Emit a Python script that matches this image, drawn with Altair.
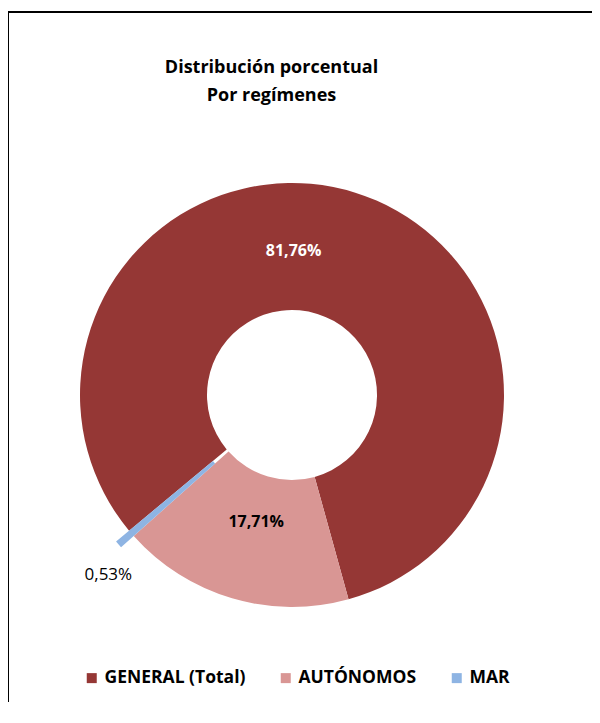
import math
import altair as alt
import pandas as pd

regimenes = ["GENERAL (Total)", "AUTÓNOMOS", "MAR"]
porcentajes = [81.76, 17.71, 0.53]
etiquetas = ["81,76%", "17,71%", "0,53%"]
orden = [1, 2, 3]
colores = ["#953735", "#D99694", "#8EB4E3"]

df = pd.DataFrame({"regimen": regimenes, "valor": porcentajes,
                   "etiqueta": etiquetas, "orden": orden})

FONT = "Open Sans"
start = math.radians(230.2)
theta_scale = alt.Scale(domain=[0, 100], range=[start, start + 2 * math.pi])
cx, cy = 282, 383

base = alt.Chart(df).transform_window(
    cum="sum(valor)", sort=[alt.SortField("orden")]
).transform_calculate(
    cum0="datum.cum - datum.valor", mid="datum.cum - datum.valor / 2"
)

color = alt.Color(
    "regimen:N",
    scale=alt.Scale(domain=regimenes, range=colores),
    legend=alt.Legend(
        title=None, orient="none", legendX=73, legendY=657,
        direction="horizontal", symbolType="square", symbolSize=100,
        symbolStrokeWidth=0, labelFont=FONT, labelFontSize=17.5,
        labelFontWeight="bold", labelColor="black", labelOffset=4,
        columnPadding=31, padding=0,
    ),
)

arcs = base.transform_filter("datum.regimen != 'MAR'").mark_arc(
    radius=212, radius2=85
).encode(
    theta=alt.Theta("cum0:Q", scale=theta_scale, stack=False),
    theta2="cum:Q",
    color=color,
    x=alt.value(cx), y=alt.value(cy),
)

arc_mar = base.transform_filter("datum.regimen == 'MAR'").mark_arc(
    radius=229, radius2=103
).encode(
    theta=alt.Theta("cum0:Q", scale=theta_scale, stack=False),
    theta2="cum:Q",
    color=color,
    x=alt.value(cx), y=alt.value(cy),
)

def label(cond, radius, dx, dy, col, weight, size):
    return base.transform_filter(cond).mark_text(
        font=FONT, fontSize=size, fontWeight=weight, color=col,
        radius=radius, dx=dx, dy=dy, align="center", baseline="middle"
    ).encode(
        theta=alt.Theta("mid:Q", scale=theta_scale, stack=False),
        text="etiqueta:N",
        x=alt.value(cx), y=alt.value(cy),
    )

lab1 = label("datum.orden == 1", 146, -42, -5, "white", "bold", 16)
lab2 = label("datum.orden == 2", 132, 1.5, 0.5, "black", "bold", 16)
lab3 = label("datum.orden == 3", 255, 9.5, 14, "black", "normal", 17)

top_rule = alt.Chart(df).mark_rule(color="black", strokeWidth=2).encode(
    x=alt.value(-3), x2=alt.value(600), y=alt.value(0)
)
left_rule = alt.Chart(df).mark_rule(color="black", strokeWidth=2).encode(
    x=alt.value(-2), y=alt.value(-1), y2=alt.value(710)
)

chart = alt.layer(top_rule, left_rule, arcs, arc_mar, lab1, lab2, lab3).properties(
    width=582, height=690,
    padding={"left": 2, "top": 4, "right": 0, "bottom": 0},
    autosize=alt.AutoSizeParams(type="none"),
    title=alt.Title(
        ["Distribución porcentual", "Por regímenes"],
        font=FONT, fontSize=18, fontWeight="bold", color="black",
        anchor="middle", dx=-29.5, dy=99, lineHeight=28,
    ),
).configure_view(strokeWidth=0, stroke="transparent")

chart.save("out.html", embed_options={"renderer": "svg", "actions": False})
